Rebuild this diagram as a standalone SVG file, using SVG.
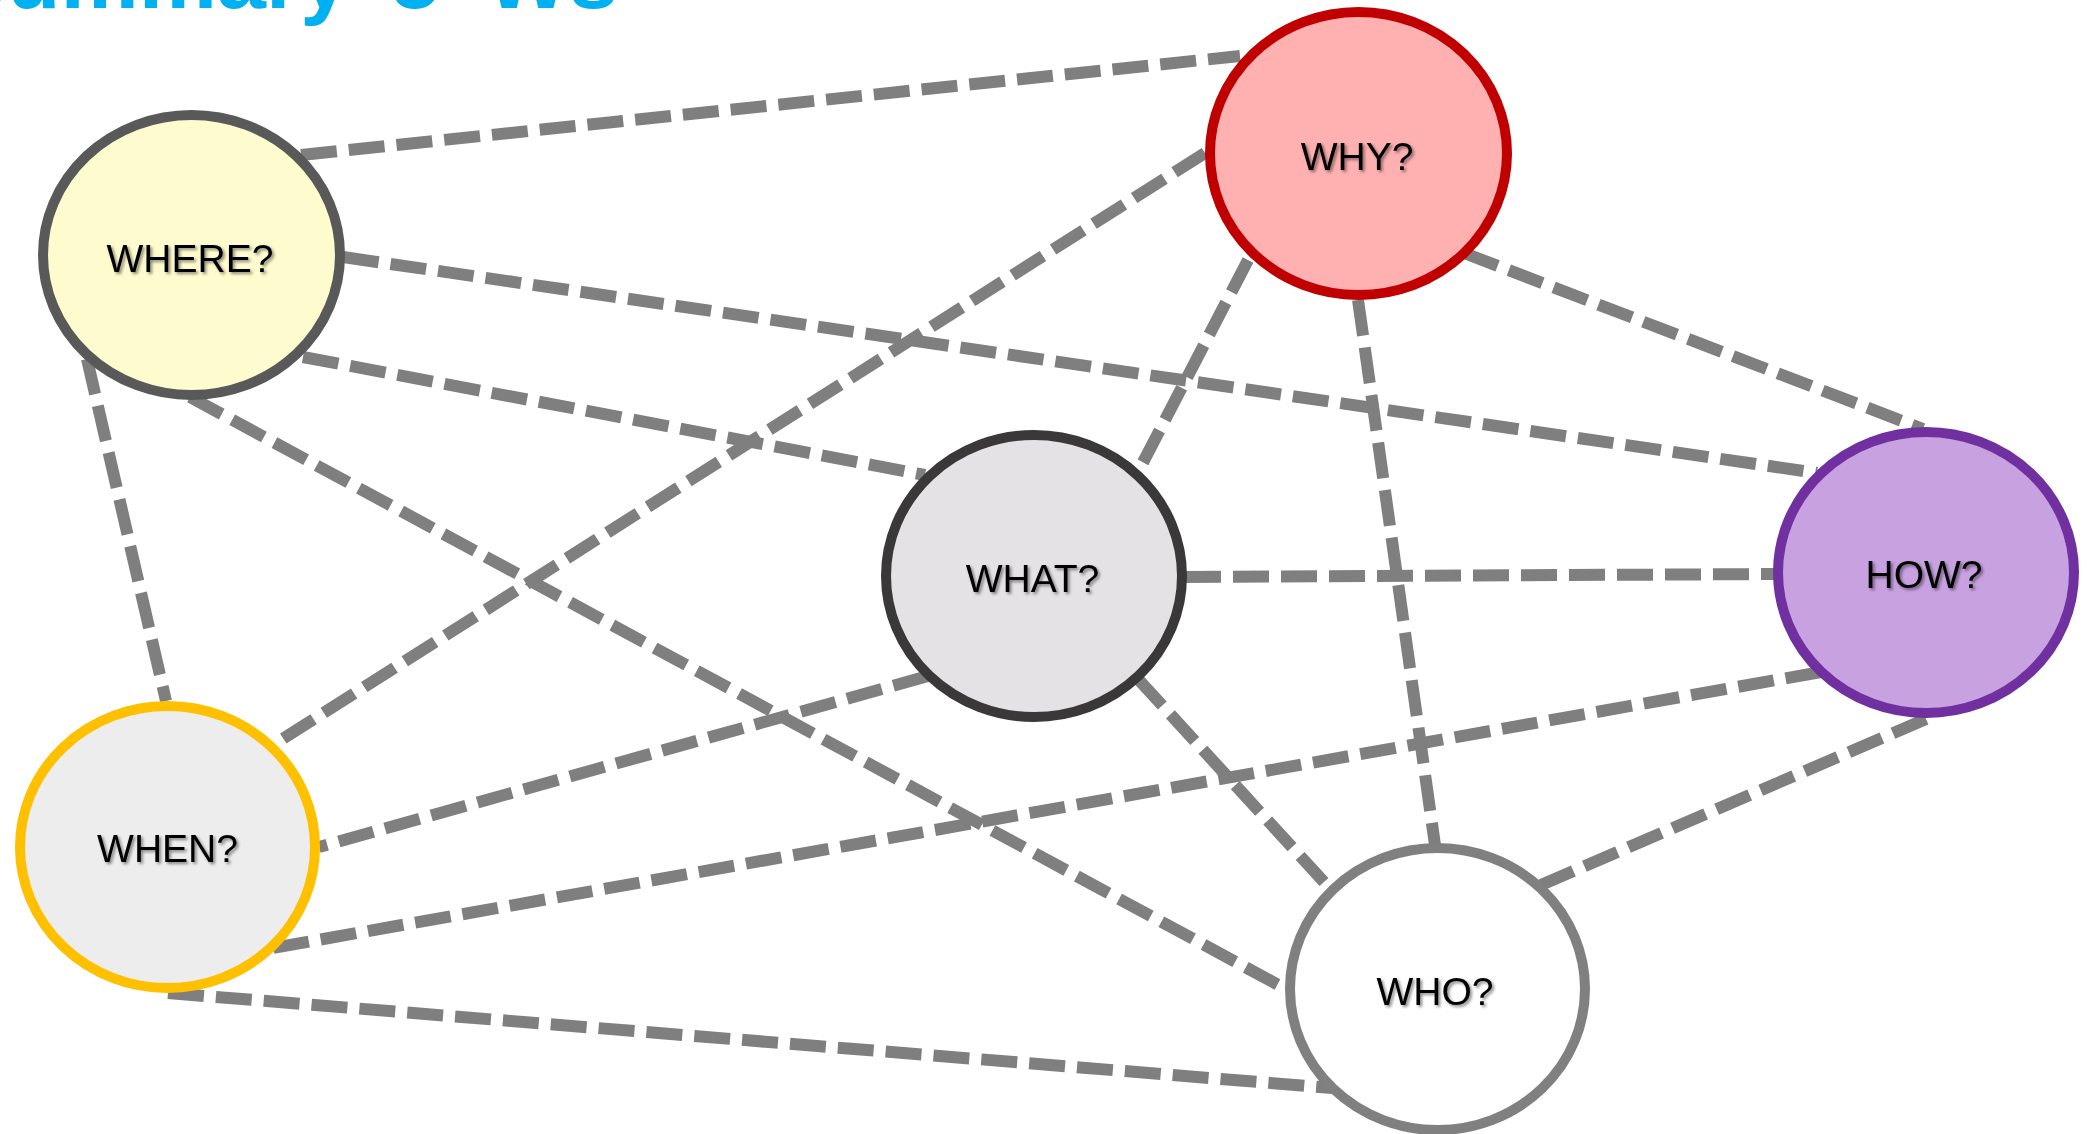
<svg xmlns="http://www.w3.org/2000/svg" width="2087" height="1134" viewBox="0 0 2087 1134">
<defs>
<style>
.c{stroke:#7F7F7F;stroke-width:12;stroke-dasharray:36 12;fill:none}
.n{stroke-width:10}
.t{font-family:"Liberation Sans",Arial,sans-serif;font-size:39px;fill:#000;text-anchor:middle;filter:url(#sh)}
.title{font-family:"Liberation Sans",Arial,sans-serif;font-size:88px;font-weight:bold;fill:#00B0F0}
</style>
<filter id="sh" x="-10%" y="-20%" width="130%" height="150%">
<feDropShadow dx="2" dy="2" stdDeviation="1.5" flood-color="#000" flood-opacity="0.45"/>
</filter>
</defs>
<rect width="2087" height="1134" fill="#fff"/>
<text class="title" x="-52" y="8">Summary<tspan x="391">5</tspan><tspan x="486">Ws</tspan></text>
<g id="connectors">
<line class="c" x1="301" y1="155" x2="1240" y2="56"/>
<line class="c" x1="343" y1="257" x2="1817" y2="473"/>
<line class="c" x1="303" y1="357" x2="925" y2="475"/>
<line class="c" x1="190" y1="397" x2="1284" y2="988"/>
<line class="c" x1="87" y1="359" x2="166" y2="701"/>
<line class="c" x1="1205" y1="153" x2="273" y2="745"/>
<line class="c" x1="1248" y1="260" x2="1138" y2="472"/>
<line class="c" x1="1358" y1="300" x2="1435" y2="845"/>
<line class="c" x1="1464" y1="253" x2="1923" y2="429"/>
<line class="c" x1="1185" y1="577" x2="1777" y2="574"/>
<line class="c" x1="928" y1="676" x2="319" y2="847"/>
<line class="c" x1="1138" y1="679" x2="1324" y2="882"/>
<line class="c" x1="1821" y1="672" x2="273" y2="948"/>
<line class="c" x1="1926" y1="719" x2="1541" y2="885"/>
<line class="c" x1="168" y1="993" x2="1332" y2="1088"/>
</g>
<g id="node-where">
<ellipse class="n" cx="191.5" cy="255" rx="148.5" ry="140" fill="#FEFBCE" stroke="#595959"/>
<text class="t" x="190" y="272">WHERE?</text>
</g>
<g id="node-why">
<ellipse class="n" cx="1358.5" cy="153.5" rx="148.5" ry="141.5" fill="#FFB1B1" stroke="#C00000"/>
<text class="t" x="1357" y="170">WHY?</text>
</g>
<g id="node-what">
<ellipse class="n" cx="1034" cy="576" rx="148" ry="141" fill="#E4E2E4" stroke="#3A3838"/>
<text class="t" x="1032.5" y="592">WHAT?</text>
</g>
<g id="node-how">
<ellipse class="n" cx="1926" cy="572.5" rx="148" ry="140.5" fill="#C8A1E1" stroke="#7030A0"/>
<text class="t" x="1924" y="588">HOW?</text>
</g>
<g id="node-when">
<ellipse class="n" cx="167.5" cy="847" rx="147.5" ry="141" fill="#EDEDED" stroke="#FFC000"/>
<text class="t" x="167.5" y="862">WHEN?</text>
</g>
<g id="node-who">
<ellipse class="n" cx="1437.5" cy="989" rx="147.5" ry="141" fill="#FFFFFF" stroke="#808080"/>
<text class="t" x="1435" y="1005">WHO?</text>
</g>
</svg>
